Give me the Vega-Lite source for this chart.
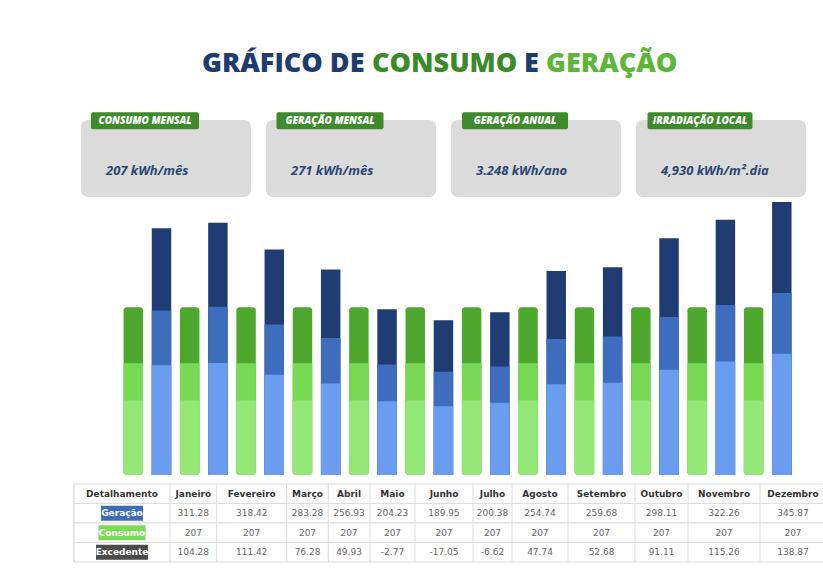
{
  "$schema": "https://vega.github.io/schema/vega-lite/v6.json",
  "width": 823,
  "height": 571,
  "autosize": {"type": "fit", "contains": "padding"},
  "padding": 0,
  "background": "white",
  "config": {"view": {"stroke": null}},
  "datasets": {
    "titulo": [
      {"w": "GRÁFICO DE", "o": 1, "cor": "azul"},
      {"w": "CONSUMO", "o": 2, "cor": "verde"},
      {"w": "E", "o": 3, "cor": "azul"},
      {"w": "GERAÇÃO", "o": 4, "cor": "verde claro"}
    ],
    "caixas": [
      {"k": "CONSUMO MENSAL", "v": "207 kWh/mês"},
      {"k": "GERAÇÃO MENSAL", "v": "271 kWh/mês"},
      {"k": "GERAÇÃO ANUAL", "v": "3.248 kWh/ano"},
      {"k": "IRRADIAÇÃO LOCAL", "v": "4,930 kWh/m².dia"}
    ],
    "barras": [
      {"mes": "Janeiro", "serie": "Consumo", "valor": 207, "s1": 84.1, "s2": 133.3},
      {"mes": "Janeiro", "serie": "Geração", "valor": 311.28, "s1": 130.5, "s2": 202.8},
      {"mes": "Fevereiro", "serie": "Consumo", "valor": 207, "s1": 84.1, "s2": 133.3},
      {"mes": "Fevereiro", "serie": "Geração", "valor": 318.42, "s1": 133.6, "s2": 207.6},
      {"mes": "Março", "serie": "Consumo", "valor": 207, "s1": 84.1, "s2": 133.3},
      {"mes": "Março", "serie": "Geração", "valor": 283.28, "s1": 118.0, "s2": 184.1},
      {"mes": "Abril", "serie": "Consumo", "valor": 207, "s1": 84.1, "s2": 133.3},
      {"mes": "Abril", "serie": "Geração", "valor": 256.93, "s1": 106.3, "s2": 166.6},
      {"mes": "Maio", "serie": "Consumo", "valor": 207, "s1": 84.1, "s2": 133.3},
      {"mes": "Maio", "serie": "Geração", "valor": 204.23, "s1": 82.9, "s2": 131.4},
      {"mes": "Junho", "serie": "Consumo", "valor": 207, "s1": 84.1, "s2": 133.3},
      {"mes": "Junho", "serie": "Geração", "valor": 189.95, "s1": 76.5, "s2": 121.9},
      {"mes": "Julho", "serie": "Consumo", "valor": 207, "s1": 84.1, "s2": 133.3},
      {"mes": "Julho", "serie": "Geração", "valor": 200.38, "s1": 81.2, "s2": 128.9},
      {"mes": "Agosto", "serie": "Consumo", "valor": 207, "s1": 84.1, "s2": 133.3},
      {"mes": "Agosto", "serie": "Geração", "valor": 254.74, "s1": 105.3, "s2": 165.1},
      {"mes": "Setembro", "serie": "Consumo", "valor": 207, "s1": 84.1, "s2": 133.3},
      {"mes": "Setembro", "serie": "Geração", "valor": 259.68, "s1": 107.5, "s2": 168.4},
      {"mes": "Outubro", "serie": "Consumo", "valor": 207, "s1": 84.1, "s2": 133.3},
      {"mes": "Outubro", "serie": "Geração", "valor": 298.11, "s1": 124.6, "s2": 194.0},
      {"mes": "Novembro", "serie": "Consumo", "valor": 207, "s1": 84.1, "s2": 133.3},
      {"mes": "Novembro", "serie": "Geração", "valor": 322.26, "s1": 135.3, "s2": 210.1},
      {"mes": "Dezembro", "serie": "Consumo", "valor": 207, "s1": 84.1, "s2": 133.3},
      {"mes": "Dezembro", "serie": "Geração", "valor": 345.87, "s1": 145.8, "s2": 225.9}
    ],
    "cabecalho": [
      {"mes": "Detalhamento", "n": 0},
      {"mes": "Janeiro", "n": 1},
      {"mes": "Fevereiro", "n": 2},
      {"mes": "Março", "n": 3},
      {"mes": "Abril", "n": 4},
      {"mes": "Maio", "n": 5},
      {"mes": "Junho", "n": 6},
      {"mes": "Julho", "n": 7},
      {"mes": "Agosto", "n": 8},
      {"mes": "Setembro", "n": 9},
      {"mes": "Outubro", "n": 10},
      {"mes": "Novembro", "n": 11},
      {"mes": "Dezembro", "n": 12}
    ],
    "linhas": [
      {"linha": "Detalhamento"},
      {"linha": "Geração"},
      {"linha": "Consumo"},
      {"linha": "Excedente"}
    ],
    "tabela": [
      {"linha": "Geração", "n": 1, "valor": 311.28},
      {"linha": "Geração", "n": 2, "valor": 318.42},
      {"linha": "Geração", "n": 3, "valor": 283.28},
      {"linha": "Geração", "n": 4, "valor": 256.93},
      {"linha": "Geração", "n": 5, "valor": 204.23},
      {"linha": "Geração", "n": 6, "valor": 189.95},
      {"linha": "Geração", "n": 7, "valor": 200.38},
      {"linha": "Geração", "n": 8, "valor": 254.74},
      {"linha": "Geração", "n": 9, "valor": 259.68},
      {"linha": "Geração", "n": 10, "valor": 298.11},
      {"linha": "Geração", "n": 11, "valor": 322.26},
      {"linha": "Geração", "n": 12, "valor": 345.87},
      {"linha": "Consumo", "n": 1, "valor": 207},
      {"linha": "Consumo", "n": 2, "valor": 207},
      {"linha": "Consumo", "n": 3, "valor": 207},
      {"linha": "Consumo", "n": 4, "valor": 207},
      {"linha": "Consumo", "n": 5, "valor": 207},
      {"linha": "Consumo", "n": 6, "valor": 207},
      {"linha": "Consumo", "n": 7, "valor": 207},
      {"linha": "Consumo", "n": 8, "valor": 207},
      {"linha": "Consumo", "n": 9, "valor": 207},
      {"linha": "Consumo", "n": 10, "valor": 207},
      {"linha": "Consumo", "n": 11, "valor": 207},
      {"linha": "Consumo", "n": 12, "valor": 207},
      {"linha": "Excedente", "n": 1, "valor": 104.28},
      {"linha": "Excedente", "n": 2, "valor": 111.42},
      {"linha": "Excedente", "n": 3, "valor": 76.28},
      {"linha": "Excedente", "n": 4, "valor": 49.93},
      {"linha": "Excedente", "n": 5, "valor": -2.77},
      {"linha": "Excedente", "n": 6, "valor": -17.05},
      {"linha": "Excedente", "n": 7, "valor": -6.62},
      {"linha": "Excedente", "n": 8, "valor": 47.74},
      {"linha": "Excedente", "n": 9, "valor": 52.68},
      {"linha": "Excedente", "n": 10, "valor": 91.11},
      {"linha": "Excedente", "n": 11, "valor": 115.26},
      {"linha": "Excedente", "n": 12, "valor": 138.87}
    ]
  },
  "layer": [
    {
      "data": {"name": "titulo"},
      "mark": {"type": "text", "align": "left", "baseline": "middle", "font": "Open Sans", "fontWeight": 800, "fontSize": 27},
      "encoding": {
        "x": {"field": "o", "type": "quantitative", "scale": {"domain": [1, 2, 3, 4], "range": [202, 372, 524, 546], "nice": false, "zero": false}, "axis": null},
        "y": {"datum": 1, "type": "quantitative", "scale": {"domain": [0, 1], "range": [571, 64], "nice": false, "zero": false}, "axis": null},
        "text": {"field": "w"},
        "color": {"field": "cor", "type": "nominal", "scale": {"domain": ["azul", "verde", "verde claro"], "range": ["#1f3c6e", "#3b8a2a", "#5db53a"]}, "legend": null}
      }
    },
    {
      "data": {"name": "caixas"},
      "layer": [
        {
          "mark": {"type": "bar", "cornerRadius": 7, "color": "#dbdbdb"},
          "encoding": {
            "y": {"datum": 1, "type": "quantitative"},
            "y2": {"datum": 0}
          }
        },
        {
          "mark": {"type": "text", "align": "left", "baseline": "middle", "dx": 25, "font": "Open Sans", "fontStyle": "italic", "fontWeight": 700, "fontSize": 13, "color": "#2c4674"},
          "encoding": {
            "x": {"field": "k", "type": "nominal", "sort": null, "bandPosition": 0},
            "y": {"datum": 0.34, "type": "quantitative"},
            "text": {"field": "v"}
          }
        },
        {
          "mark": {"type": "bar", "cornerRadius": 2, "color": "#3f8a2b", "xOffset": -21},
          "encoding": {
            "y": {"datum": 1.1, "type": "quantitative"},
            "y2": {"datum": 0.88},
            "size": {"field": "k", "type": "nominal", "scale": {"domain": ["CONSUMO MENSAL", "GERAÇÃO MENSAL", "GERAÇÃO ANUAL", "IRRADIAÇÃO LOCAL"], "range": [108, 105, 98, 110]}, "legend": null}
          }
        },
        {
          "mark": {"type": "text", "align": "center", "baseline": "middle", "dx": -21, "font": "Open Sans", "fontStyle": "italic", "fontWeight": 800, "fontSize": 10, "color": "white"},
          "encoding": {
            "y": {"datum": 0.99, "type": "quantitative"},
            "text": {"field": "k"}
          }
        }
      ],
      "encoding": {
        "x": {"field": "k", "type": "nominal", "sort": null, "scale": {"type": "band", "domain": ["CONSUMO MENSAL", "GERAÇÃO MENSAL", "GERAÇÃO ANUAL", "IRRADIAÇÃO LOCAL"], "range": [81, 806], "paddingInner": 0.081, "paddingOuter": 0}, "axis": null},
        "y": {"datum": 0, "type": "quantitative", "scale": {"domain": [0, 1], "range": [197, 120], "nice": false, "zero": false}, "axis": null}
      }
    },
    {
      "data": {"name": "barras"},
      "encoding": {
        "x": {"field": "mes", "type": "nominal", "sort": null, "scale": {"type": "band", "domain": ["Janeiro", "Fevereiro", "Março", "Abril", "Maio", "Junho", "Julho", "Agosto", "Setembro", "Outubro", "Novembro", "Dezembro"], "range": [119.2, 795.9], "paddingInner": 0, "paddingOuter": 0}, "axis": null},
        "xOffset": {"field": "serie", "type": "nominal", "scale": {"domain": ["Consumo", "Geração"], "paddingInner": 0.31, "paddingOuter": 0.155}},
        "y2": {"datum": -14.2}
      },
      "layer": [
        {
          "transform": [{"filter": "datum.serie === 'Consumo'"}],
          "mark": {"type": "bar", "cornerRadius": 3, "color": "#4fa82e"},
          "encoding": {"y": {"field": "valor", "type": "quantitative", "scale": {"domain": [-14.2, 350], "range": [475, 198.8], "nice": false, "zero": false}, "axis": null}}
        },
        {
          "transform": [{"filter": "datum.serie === 'Consumo'"}],
          "mark": {"type": "bar", "cornerRadiusBottomLeft": 3, "cornerRadiusBottomRight": 3, "color": "#78da54"},
          "encoding": {"y": {"field": "s2", "type": "quantitative"}}
        },
        {
          "transform": [{"filter": "datum.serie === 'Consumo'"}],
          "mark": {"type": "bar", "cornerRadiusBottomLeft": 3, "cornerRadiusBottomRight": 3, "color": "#93e877"},
          "encoding": {"y": {"field": "s1", "type": "quantitative"}}
        },
        {
          "transform": [{"filter": "datum.serie === 'Geração'"}],
          "mark": {"type": "bar", "color": "#1f3d73"},
          "encoding": {"y": {"field": "valor", "type": "quantitative"}}
        },
        {
          "transform": [{"filter": "datum.serie === 'Geração'"}],
          "mark": {"type": "bar", "color": "#3e6dbd"},
          "encoding": {"y": {"field": "s2", "type": "quantitative"}}
        },
        {
          "transform": [{"filter": "datum.serie === 'Geração'"}],
          "mark": {"type": "bar", "color": "#6a9def"},
          "encoding": {"y": {"field": "s1", "type": "quantitative"}}
        }
      ]
    },
    {
      "data": {"name": "linhas"},
      "mark": {"type": "rect", "fill": "white", "stroke": "#dddddd", "strokeWidth": 1},
      "encoding": {
        "x": {"datum": 0, "type": "quantitative", "scale": {"domain": [0, 1], "range": [74, 840], "nice": false, "zero": false}, "axis": null},
        "x2": {"datum": 1},
        "y": {"field": "linha", "type": "nominal", "sort": null, "scale": {"type": "band", "domain": ["Detalhamento", "Geração", "Consumo", "Excedente"], "range": [484, 562], "paddingInner": 0, "paddingOuter": 0}, "axis": null}
      }
    },
    {
      "data": {"name": "cabecalho"},
      "mark": {"type": "rule", "color": "#dddddd", "strokeWidth": 1},
      "encoding": {
        "x": {"field": "n", "type": "quantitative", "scale": {"domain": [0, 1, 2, 3, 4, 5, 6, 7, 8, 9, 10, 11, 12], "range": [74, 170, 216.7, 286.7, 328.3, 370, 415, 473, 512, 568, 635, 688, 760], "nice": false, "zero": false}, "axis": null},
        "y": {"datum": 0, "type": "quantitative", "scale": {"domain": [0, 1], "range": [562, 484], "nice": false, "zero": false}, "axis": null},
        "y2": {"datum": 1}
      }
    },
    {
      "data": {"name": "cabecalho"},
      "mark": {"type": "text", "align": "center", "baseline": "middle", "font": "DejaVu Sans", "fontWeight": "bold", "fontSize": 9, "color": "#333333"},
      "encoding": {
        "x": {"field": "n", "type": "quantitative", "scale": {"domain": [0, 1, 2, 3, 4, 5, 6, 7, 8, 9, 10, 11, 12], "range": [122, 193.3, 251.7, 307.5, 349, 392.5, 444, 492.5, 540, 601.5, 661.5, 724, 793], "nice": false, "zero": false}, "axis": null},
        "y": {"datum": "Detalhamento", "type": "nominal", "scale": {"type": "band", "domain": ["Detalhamento", "Geração", "Consumo", "Excedente"], "range": [484, 562], "paddingInner": 0, "paddingOuter": 0}, "axis": null},
        "text": {"field": "mes"}
      }
    },
    {
      "data": {"name": "tabela"},
      "mark": {"type": "text", "align": "center", "baseline": "middle", "font": "DejaVu Sans", "fontSize": 9, "color": "#666666"},
      "encoding": {
        "x": {"field": "n", "type": "quantitative", "scale": {"domain": [0, 1, 2, 3, 4, 5, 6, 7, 8, 9, 10, 11, 12], "range": [122, 193.3, 251.7, 307.5, 349, 392.5, 444, 492.5, 540, 601.5, 661.5, 724, 793], "nice": false, "zero": false}, "axis": null},
        "y": {"field": "linha", "type": "nominal", "sort": null, "scale": {"type": "band", "domain": ["Detalhamento", "Geração", "Consumo", "Excedente"], "range": [484, 562], "paddingInner": 0, "paddingOuter": 0}, "axis": null},
        "text": {"field": "valor", "type": "nominal"}
      }
    },
    {
      "data": {"name": "linhas"},
      "transform": [{"filter": "datum.linha !== 'Detalhamento'"}],
      "encoding": {
        "x": {"datum": 0, "type": "quantitative", "scale": {"domain": [0, 1], "range": [122, 200], "nice": false, "zero": false}, "axis": null},
        "y": {"field": "linha", "type": "nominal", "sort": null, "scale": {"type": "band", "domain": ["Detalhamento", "Geração", "Consumo", "Excedente"], "range": [484, 562], "paddingInner": 0, "paddingOuter": 0}, "axis": null}
      },
      "layer": [
        {
          "mark": {"type": "point", "filled": true, "opacity": 1, "size": 400, "strokeWidth": 0},
          "encoding": {
            "shape": {"field": "linha", "type": "nominal", "scale": {"domain": ["Geração", "Consumo", "Excedente"], "range": ["M-2.1,-0.75H2.1V0.75H-2.1Z", "M-2.35,-0.75H2.35V0.75H-2.35Z", "M-2.6,-0.75H2.6V0.75H-2.6Z"]}, "legend": null},
            "color": {"field": "linha", "type": "nominal", "scale": {"domain": ["Geração", "Consumo", "Excedente"], "range": ["#3d6db8", "#7bdb57", "#4b4b4b"]}, "legend": null}
          }
        },
        {
          "mark": {"type": "text", "align": "center", "baseline": "middle", "font": "DejaVu Sans", "fontWeight": "bold", "fontSize": 9, "color": "white"},
          "encoding": {"text": {"field": "linha"}}
        }
      ]
    }
  ],
  "resolve": {"scale": {"x": "independent", "y": "independent", "color": "independent", "size": "independent", "shape": "independent"}}
}
